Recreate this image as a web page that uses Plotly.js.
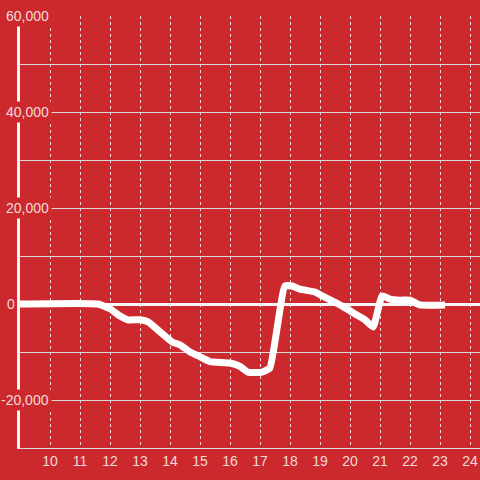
<!DOCTYPE html>
<html>
<head>
<meta charset="utf-8">
<script src="https://cdn.plot.ly/plotly-3.0.1.min.js"></script>
<style>html,body{margin:0;padding:0;background:#cc292e;}#chart{width:480px;height:480px;}</style>
</head>
<body>
<div id="chart"></div>
<script>
var hours = [9, 11.6, 12.0, 12.33, 12.6, 13.0, 13.27, 13.67, 14.07, 14.33, 14.67, 15.0, 15.33, 16.0, 16.33, 16.6, 17.07, 17.33, 17.83, 18.07, 18.33, 18.83, 19.07, 19.67, 20.07, 20.5, 20.77, 21.07, 21.33, 21.67, 22.0, 22.33, 23.17];
var values = [0, 0, -1000, -2500, -3300, -3300, -3700, -5800, -7900, -8500, -10000, -11000, -12000, -12300, -13000, -14200, -14200, -13300, 3750, 3750, 3100, 2500, 1700, -200, -1700, -3300, -4800, 1700, 1000, 800, 800, -200, -200];
var yTickVals = [60000, 40000, 20000, 0, -20000];
var yTickText = ['60,000', '40,000', '20,000', '0', '-20,000'];
var xTickVals = [10, 11, 12, 13, 14, 15, 16, 17, 18, 19, 20, 21, 22, 23, 24];

var bg = '#cc292e';
var labelColor = '#f2dada';

var trace = {
  x: hours, y: values, type: 'scatter', mode: 'lines',
  line: {color: '#ffffff', width: 7, shape: 'spline', smoothing: 0.4},
  hoverinfo: 'none'
};

var annotations = yTickVals.map(function (v, i) {
  var isZero = (v === 0);
  return {
    xref: 'paper', yref: 'y', x: isZero ? -0.009 : 0.0696, y: v, xanchor: 'right', yanchor: 'middle',
    text: yTickText[i], showarrow: false, bgcolor: isZero ? 'rgba(0,0,0,0)' : bg, borderpad: isZero ? 0 : 2,
    font: {family: 'Liberation Sans, Arial, sans-serif', size: 14, color: labelColor}
  };
});

var layout = {
  width: 480, height: 480,
  margin: {l: 20, r: 0, t: 16, b: 32},
  paper_bgcolor: bg, plot_bgcolor: bg,
  showlegend: false,
  font: {family: 'Liberation Sans, Arial, sans-serif', size: 14, color: labelColor},
  xaxis: {
    range: [9, 24.333], tickvals: xTickVals, ticks: '',
    showgrid: true, gridcolor: 'rgba(255,255,255,0.85)', griddash: 'dot', gridwidth: 1,
    showline: true, linecolor: '#dddddd', linewidth: 1,
    zeroline: false, fixedrange: true,
    tickfont: {size: 14, color: labelColor}
  },
  yaxis: {
    range: [-30000, 60000], dtick: 10000, showticklabels: false, ticks: '',
    showgrid: true, gridcolor: '#d9d9d9', gridwidth: 1,
    zeroline: true, zerolinecolor: '#f5f5f5', zerolinewidth: 3,
    showline: true, linecolor: '#f5f5f5', linewidth: 3,
    fixedrange: true
  },
  annotations: annotations
};

Plotly.newPlot('chart', [trace], layout, {displayModeBar: false, staticPlot: true});
</script>
</body>
</html>
